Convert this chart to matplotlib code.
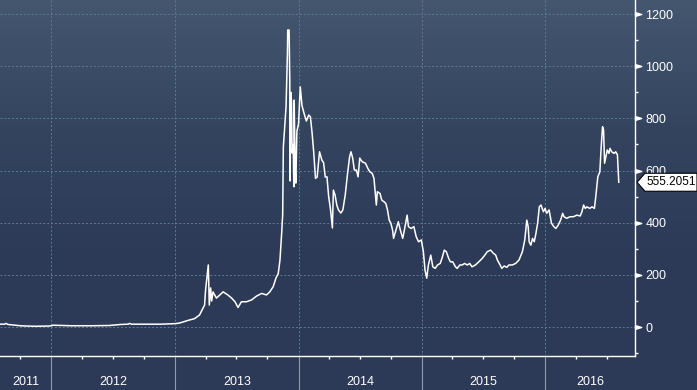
import matplotlib
matplotlib.use("Agg")
import matplotlib.pyplot as plt
import matplotlib.dates as mdates
import matplotlib.transforms as mtransforms
from matplotlib.colors import LinearSegmentedColormap
from matplotlib.patches import Polygon
from matplotlib.path import Path
import numpy as np
import pandas as pd

# Price series (USD)
dates = [
    "2011-08-02", "2011-08-15", "2011-08-20", "2011-08-25", "2011-09-10", "2011-10-01",
    "2011-10-18", "2011-11-15", "2011-12-10", "2011-12-29", "2012-01-05", "2012-03-01",
    "2012-05-01", "2012-06-20", "2012-07-15", "2012-07-25", "2012-08-15", "2012-08-19",
    "2012-08-25", "2012-09-24", "2012-10-20", "2012-11-20", "2012-12-31",
    "2013-01-13", "2013-02-12", "2013-02-27", "2013-03-14", "2013-03-29", "2013-04-01",
    "2013-04-09", "2013-04-12", "2013-04-16", "2013-04-19", "2013-04-23", "2013-05-03",
    "2013-05-13", "2013-05-23", "2013-06-06", "2013-06-17", "2013-06-27", "2013-07-06",
    "2013-07-16", "2013-07-31", "2013-08-15", "2013-08-30", "2013-09-14", "2013-09-28",
    "2013-10-08", "2013-10-18", "2013-10-26", "2013-11-02", "2013-11-07", "2013-11-12",
    "2013-11-15", "2013-11-17", "2013-11-25", "2013-11-29", "2013-11-30", "2013-12-04",
    "2013-12-06", "2013-12-07", "2013-12-09", "2013-12-11", "2013-12-13", "2013-12-16",
    "2013-12-18", "2013-12-19", "2013-12-22", "2013-12-24", "2013-12-27", "2014-01-01",
    "2014-01-06", "2014-01-11", "2014-01-16", "2014-01-24", "2014-01-31", "2014-02-05",
    "2014-02-10", "2014-02-15", "2014-02-20", "2014-02-25", "2014-03-04", "2014-03-11",
    "2014-03-16", "2014-03-21", "2014-03-26", "2014-03-31", "2014-04-05", "2014-04-11",
    "2014-04-14", "2014-04-19", "2014-04-24", "2014-04-29", "2014-05-06", "2014-05-12",
    "2014-05-19", "2014-05-26", "2014-06-01", "2014-06-05", "2014-06-10", "2014-06-15",
    "2014-06-21", "2014-06-26", "2014-07-01", "2014-07-08", "2014-07-18", "2014-07-25",
    "2014-07-31", "2014-08-07", "2014-08-12", "2014-08-15", "2014-08-19", "2014-08-22",
    "2014-08-30", "2014-09-04", "2014-09-11", "2014-09-16", "2014-09-21", "2014-09-26",
    "2014-10-01", "2014-10-06", "2014-10-09", "2014-10-16", "2014-10-23", "2014-10-29",
    "2014-11-05", "2014-11-10", "2014-11-18", "2014-11-22", "2014-11-30", "2014-12-08",
    "2014-12-15", "2014-12-22", "2014-12-30",
    "2015-01-05", "2015-01-10", "2015-01-15", "2015-01-20", "2015-01-27", "2015-02-02",
    "2015-02-09", "2015-02-16", "2015-02-24", "2015-03-01", "2015-03-08", "2015-03-14",
    "2015-03-21", "2015-03-26", "2015-04-02", "2015-04-10", "2015-04-15", "2015-04-23",
    "2015-04-30", "2015-05-07", "2015-05-15", "2015-05-22", "2015-05-29", "2015-06-08",
    "2015-06-18", "2015-06-28", "2015-07-06", "2015-07-13", "2015-07-23", "2015-07-31",
    "2015-08-07", "2015-08-12", "2015-08-20", "2015-08-25", "2015-09-01", "2015-09-09",
    "2015-09-15", "2015-09-25", "2015-10-05", "2015-10-15", "2015-10-25", "2015-11-01",
    "2015-11-07", "2015-11-11", "2015-11-14", "2015-11-19", "2015-11-24", "2015-11-29",
    "2015-12-04", "2015-12-09", "2015-12-14", "2015-12-19", "2015-12-26", "2015-12-31",
    "2016-01-05", "2016-01-12", "2016-01-19", "2016-01-26", "2016-02-01", "2016-02-08",
    "2016-02-15", "2016-02-21", "2016-02-25", "2016-03-04", "2016-03-14", "2016-03-24",
    "2016-04-03", "2016-04-13", "2016-04-18", "2016-04-23", "2016-04-28", "2016-05-03",
    "2016-05-11", "2016-05-18", "2016-05-25", "2016-05-29", "2016-06-04", "2016-06-10",
    "2016-06-14", "2016-06-18", "2016-06-21", "2016-06-24", "2016-06-28", "2016-07-02",
    "2016-07-07", "2016-07-10", "2016-07-15", "2016-07-22", "2016-07-27", "2016-08-01",
    "2016-08-05",
]
prices = [
    11, 11, 14, 10, 8, 5,
    4, 3, 3.5, 4, 7, 5,
    5, 6, 9, 10, 11, 14,
    11, 11, 11, 11, 13,
    15, 27, 32, 46, 84, 142,
    238, 84, 150, 100, 135, 111,
    123, 135, 123, 111, 97, 75,
    97, 97, 104, 119, 129, 123,
    135, 155, 187, 206, 257, 360,
    430, 690, 845, 1049, 1139, 1139,
    947, 560, 900, 870, 667, 700,
    538, 870, 600, 552, 750, 780,
    921, 850, 825, 790, 813, 806,
    744, 667, 570, 575, 672, 640,
    630, 575, 576, 500, 456, 380,
    525, 506, 468, 449, 437, 449,
    506, 590, 653, 672, 648, 602,
    602, 576, 648, 634, 628, 608,
    595, 589, 570, 525, 468, 519,
    512, 487, 480, 474, 449, 410,
    398, 372, 340, 372, 404, 372,
    340, 372, 429, 385, 378, 385,
    346, 327, 334,
    290, 219, 187, 238, 276, 231,
    225, 238, 244, 263, 295, 289,
    263, 250, 250, 231, 225, 238,
    238, 244, 238, 244, 231, 238,
    250, 263, 276, 289, 295, 283,
    276, 257, 238, 225, 234, 229,
    238, 238, 244, 257, 289, 334,
    410, 385, 327, 314, 340, 327,
    359, 398, 461, 468, 442, 455,
    436, 449, 398, 385, 378, 391,
    410, 436, 423, 417, 423, 423,
    429, 426, 442, 468, 455, 461,
    455, 461, 455, 500, 576, 595,
    691, 768, 755, 628, 653, 679,
    666, 685, 672, 666, 672, 660,
    555.2051,
]

y_ticks = [0, 200, 400, 600, 800, 1000, 1200]
y_minor = [-100, 100, 300, 500, 700, 900, 1100]
years = [2011, 2012, 2013, 2014, 2015, 2016]
x_start = "2011-08-02"
x_end = "2016-09-22"

plt.rcParams['font.family'] = ['Liberation Sans', 'DejaVu Sans']

W, H = 697, 390
fig = plt.figure(figsize=(W / 100, H / 100), dpi=100)

# background gradient behind everything
bg = fig.add_axes([0, 0, 1, 1], zorder=0)
cmap = LinearSegmentedColormap.from_list("bbg", ["#44576f", "#34445f", "#2c3a57", "#2c3a57"])
bg.imshow(np.linspace(0, 1, 256).reshape(-1, 1), cmap=cmap, aspect='auto', extent=[0, 1, 0, 1])
bg.axis('off')

ax = fig.add_axes([0, 34 / H, 635 / W, 356 / H], zorder=1)
ax.patch.set_alpha(0)

x = pd.to_datetime(dates)
ax.plot(x, prices, color='white', linewidth=1.1, zorder=3)

ax.set_xlim(pd.Timestamp(x_start), pd.Timestamp(x_end))
ax.set_ylim(-111, 1254)

# spines
for side in ['top', 'left']:
    ax.spines[side].set_visible(False)
for side in ['right', 'bottom']:
    ax.spines[side].set_color('white')
    ax.spines[side].set_linewidth(1.0)

# y axis on the right
ax.yaxis.tick_right()
ax.set_yticks(y_ticks)
ax.set_yticks(y_minor, minor=True)
ax.tick_params(axis='y', which='major', length=0, pad=7.5, labelcolor='white', labelsize=9)
ax.tick_params(axis='y', which='minor', length=2.5, width=1, color='white')

# triangle markers for the major y ticks
tri = Path([(0, -0.3), (1, 0), (0, 0.3), (0, -0.3)])
ytrans = mtransforms.blended_transform_factory(ax.transAxes, ax.transData)
ax.plot([1] * len(y_ticks), y_ticks, linestyle='none', marker=tri, markersize=9,
        color='white', transform=ytrans, clip_on=False, zorder=4)

# x axis: year separators and quarter ticks
year_starts = [pd.Timestamp(f"{y}-01-01") for y in years[1:]]
ax.set_xticks(year_starts)
ax.set_xticklabels([])
ax.xaxis.set_minor_locator(mdates.MonthLocator(bymonth=[4, 7, 10]))
ax.tick_params(axis='x', which='major', length=24.5, width=0.8, color='#8e9ab0')
ax.tick_params(axis='x', which='minor', length=2.5, width=1, color='white')

# grid
ax.grid(True, which='major', axis='both', color='#5a7c94', linestyle=(0, (2, 2)), linewidth=0.7)
ax.set_axisbelow(True)

# year labels centered in the visible part of each year
xtrans = mtransforms.blended_transform_factory(ax.transData, ax.transAxes)
lo, hi = ax.get_xlim()
for y in years:
    a = max(mdates.date2num(pd.Timestamp(f"{y}-01-01")), lo)
    b = min(mdates.date2num(pd.Timestamp(f"{y + 1}-01-01")), hi)
    ax.text((a + b) / 2, -0.073, str(y), transform=xtrans, ha='center', va='center',
            color='white', fontsize=9)

# last value tag
px, py = ytrans.transform((1, prices[-1]))
tag = Polygon([(px + 2, py), (px + 10, py + 9), (px + 62, py + 9), (px + 62, py - 9), (px + 10, py - 9)],
              closed=True, facecolor='white', edgecolor='black', linewidth=0.8,
              transform=mtransforms.IdentityTransform(), zorder=5)
fig.add_artist(tag)
fig.text(px + 11, py, f"{prices[-1]:.4f}", transform=mtransforms.IdentityTransform(),
         ha='left', va='center', color='black', fontsize=8.5, zorder=6)

fig.savefig("out.png", dpi=100)
